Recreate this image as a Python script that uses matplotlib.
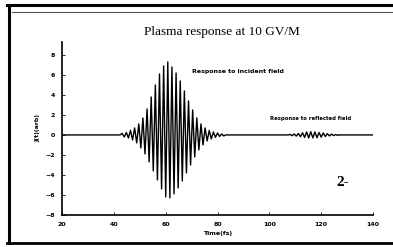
import matplotlib
matplotlib.use('Agg')
import matplotlib.pyplot as plt
from matplotlib.lines import Line2D
import numpy as np

# extrema of the main (incident) response
incident_t = [43.2, 44.0, 44.8, 45.6, 46.4, 47.2, 48.0, 48.8, 49.6, 50.4,
              51.2, 52.0, 52.8, 53.6, 54.4, 55.2, 56.0, 56.8, 57.6, 58.4,
              59.2, 60.0, 60.8, 61.6, 62.4, 63.2, 64.0, 64.8, 65.6, 66.4,
              67.2, 68.0, 68.8, 69.6, 70.4, 71.2, 72.0, 72.8, 73.6, 74.4,
              75.2, 76.0, 76.8, 77.6, 78.4, 79.2, 80.0, 80.8, 81.6, 82.4]
incident_j = [0.15, -0.2, 0.25, -0.3, 0.45, -0.5, 0.7, -0.8, 1.1, -1.3,
              1.7, -1.9, 2.6, -2.7, 3.8, -3.6, 5.0, -4.5, 6.1, -5.4,
              6.9, -6.2, 7.3, -6.3, 6.8, -5.9, 6.2, -5.3, 5.4, -4.6,
              4.4, -3.8, 3.4, -3.0, 2.5, -2.2, 1.7, -1.5, 1.1, -1.0,
              0.7, -0.6, 0.45, -0.4, 0.3, -0.25, 0.2, -0.15, 0.1, -0.1]

# small ripple from the reflected field
reflected_t = [108.0, 108.8, 109.6, 110.4, 111.2, 112.0, 112.8, 113.6, 114.4, 115.2,
               116.0, 116.8, 117.6, 118.4, 119.2, 120.0, 120.8, 121.6, 122.4, 123.2,
               124.0, 124.8, 125.6, 126.4]
reflected_j = [0.05, -0.08, 0.1, -0.12, 0.15, -0.18, 0.22, -0.25, 0.3, -0.3,
               0.32, -0.3, 0.3, -0.28, 0.25, -0.22, 0.2, -0.16, 0.13, -0.1,
               0.08, -0.06, 0.04, -0.03]

t_all = [20.0, 42.4] + incident_t + [83.2, 107.2] + reflected_t + [127.2, 140.0]
j_all = [0.0, 0.0] + incident_j + [0.0, 0.0] + reflected_j + [0.0, 0.0]

xticks = [20, 40, 60, 80, 100, 120, 140]
yticks = [-8, -6, -4, -2, 0, 2, 4, 6, 8]

fig = plt.figure(figsize=(3.93, 2.47), dpi=100)
ax = fig.add_axes([0.158, 0.130, 0.791, 0.700])
ax.plot(t_all, j_all, color='black', lw=1.0)
ax.set_xlim(20, 140)
ax.set_ylim(-8, 9.3)
ax.set_xticks(xticks)
ax.set_yticks(yticks)
ax.tick_params(direction='in', length=2, width=0.6, labelsize=4.5, pad=5)
for lab in ax.get_xticklabels() + ax.get_yticklabels():
    lab.set_fontweight('bold')
ax.spines['top'].set_visible(False)
ax.spines['right'].set_visible(False)
ax.spines['left'].set_linewidth(1.2)
ax.spines['bottom'].set_linewidth(1.2)
ax.set_xlabel('Time(fs)', fontsize=4.5, fontweight='bold', labelpad=3)
ax.set_ylabel('J(t)(arb)', fontsize=4.5, fontweight='bold', labelpad=4)

fig.text(0.565, 0.87, 'Plasma response at 10 GV/M', family='Liberation Serif',
         fontsize=9.5, ha='center', va='center')
fig.text(0.488, 0.71, 'Response to incident field', fontsize=4.5,
         fontweight='bold', ha='left', va='center')
fig.text(0.687, 0.522, 'Response to reflected field', fontsize=3.8,
         fontweight='bold', ha='left', va='center')
fig.text(0.873, 0.263, '2-', family='Liberation Serif', fontsize=11,
         fontweight='bold', ha='center', va='center')

# scanned page frame
fig.add_artist(Line2D([0.018, 1.0], [0.980, 0.980], color='black', lw=2.2))
fig.add_artist(Line2D([0.03, 1.0], [0.951, 0.951], color='#555555', lw=0.8))
fig.add_artist(Line2D([0.022, 0.022], [0.016, 0.980], color='black', lw=2.2))
fig.add_artist(Line2D([0.018, 1.0], [0.016, 0.016], color='black', lw=2.0))

fig.savefig('out.png', dpi=100)
